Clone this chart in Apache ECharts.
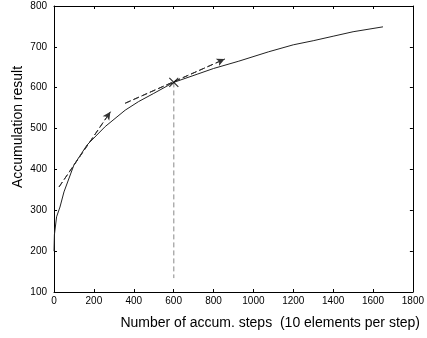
<!DOCTYPE html>
<html><head><meta charset="utf-8">
<script src="https://cdn.jsdelivr.net/npm/echarts@6/dist/echarts.min.js"></script>
<style>html,body{margin:0;padding:0;background:#fff}#c{width:427px;height:338px}</style>
</head><body><div id="c"></div>
<script>
// Data
var steps  = [0, 2, 13, 30, 50, 100, 166, 257, 357, 424, 500, 600, 718, 800, 927, 1077, 1200, 1300, 1400, 1500, 1600, 1650];
var result = [200, 240, 284, 308, 345, 411, 460, 505, 545, 566, 586, 613, 633, 647, 665, 688, 705, 715, 726, 737, 745, 749];
var tangent1 = [[25, 357], [283, 541]];
var tangent2 = [[357, 562], [856, 670]];
var dropLine = [[601, 613], [601, 134]];
var crossPoint = [[601, 613]];
var xTicks = [0, 200, 400, 600, 800, 1000, 1200, 1400, 1600, 1800];
var yTicks = [100, 200, 300, 400, 500, 600, 700, 800];
var xTitle = 'Number of accum. steps  (10 elements per step)';
var yTitle = 'Accumulation result';

var chart = echarts.init(document.getElementById('c'), null, {renderer: 'canvas'});
var font = 'Liberation Sans, Arial, sans-serif';
function axisBase(show, margin) {
  return {
    axisLine: {show: true, onZero: false, lineStyle: {color: '#000', width: 1}},
    axisTick: {show: true, inside: true, length: 3, lineStyle: {color: '#000'}},
    splitLine: {show: false},
    axisLabel: {show: show, color: '#000', fontSize: 10, fontFamily: font, margin: margin,
      formatter: function (v) { return String(v); }}
  };
}
var grid = {left: 54, top: 6, right: 12, bottom: 46};
var xMain = Object.assign(axisBase(true, 4), {type: 'value', min: xTicks[0], max: xTicks[xTicks.length-1], interval: 200, position: 'bottom'});
var xTop = Object.assign(axisBase(false, 4), {type: 'value', min: xTicks[0], max: xTicks[xTicks.length-1], interval: 200, position: 'top'});
var yMain = Object.assign(axisBase(true, 7), {type: 'value', min: yTicks[0], max: yTicks[yTicks.length-1], interval: 100, position: 'left'});
var yRight = Object.assign(axisBase(false, 7), {type: 'value', min: yTicks[0], max: yTicks[yTicks.length-1], interval: 100, position: 'right'});

function pairs(xs, ys) { return xs.map(function (x, i) { return [x, ys[i]]; }); }
var dash = {color: '#333', width: 1, type: [6, 3]};

chart.setOption({
  animation: false,
  backgroundColor: '#fff',
  grid: grid,
  xAxis: [xMain, xTop],
  yAxis: [yMain, yRight],
  graphic: [
    {type: 'text', x: 18, y: 127, rotation: Math.PI / 2,
     style: {text: yTitle, fontSize: 14, fontFamily: font, fill: '#000', align: 'center', verticalAlign: 'middle'}},
    {type: 'text', x: 420, y: 323,
     style: {text: xTitle, fontSize: 14, fontFamily: font, fill: '#000', align: 'right', verticalAlign: 'middle'}}
  ],
  series: [
    {type: 'line', data: pairs(steps, result), showSymbol: false, symbol: 'none', smooth: false,
     lineStyle: {color: '#222', width: 1}, z: 3},
    {type: 'line', data: dropLine, symbol: 'none', lineStyle: {color: '#888', width: 1, type: [5, 3]}, z: 2},
    {type: 'line', data: tangent1, symbol: 'none', lineStyle: dash, z: 2,
     markLine: {silent: true, symbol: ['none', 'arrow'], symbolSize: [6, 8], label: {show: false},
       lineStyle: dash, data: [[{coord: tangent1[0]}, {coord: tangent1[1]}]]}},
    {type: 'line', data: tangent2, symbol: 'none', lineStyle: dash, z: 2,
     markLine: {silent: true, symbol: ['none', 'arrow'], symbolSize: [6, 8], label: {show: false},
       lineStyle: dash, data: [[{coord: tangent2[0]}, {coord: tangent2[1]}]]}},
    {type: 'scatter', data: crossPoint, symbol: 'path://M0,0L10,10M10,0L0,10', symbolSize: 9,
     itemStyle: {color: 'rgba(0,0,0,0)', borderColor: '#000', borderWidth: 1.2}, z: 5}
  ]
});
</script></body></html>
